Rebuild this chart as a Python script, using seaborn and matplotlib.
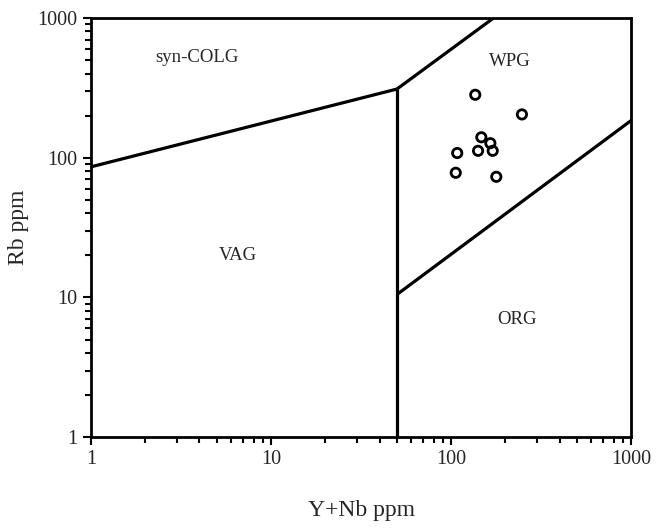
import numpy as np
import pandas as pd
import matplotlib
matplotlib.use("Agg")
import matplotlib.pyplot as plt
import seaborn as sns

# sample points
y_nb = [136, 247, 147, 165, 108, 141, 170, 106, 178]
rb = [282, 204, 140, 127, 108, 112, 112, 78, 73]

# discrimination boundaries (Y+Nb, Rb)
colg_vag_x = [1, 50]
colg_vag_y = [86, 310]
vertical_x = [50, 50]
vertical_y = [1, 310]
colg_wpg_x = [50, 172]
colg_wpg_y = [310, 1000]
wpg_org_x = [50, 1000]
wpg_org_y = [10.5, 185]

field_names = ["syn-COLG", "WPG", "VAG", "ORG"]
field_x = [3.9, 213, 6.5, 233]
field_y = [520, 490, 20, 7.0]

sns.set_style("ticks")
plt.rcParams["font.family"] = ["Liberation Serif", "DejaVu Serif"]

fig = plt.figure(figsize=(6.59, 5.28), dpi=100)
ax = fig.add_axes([0.138, 0.172, 0.82, 0.794])

for bx, by in [(colg_vag_x, colg_vag_y), (vertical_x, vertical_y),
               (colg_wpg_x, colg_wpg_y), (wpg_org_x, wpg_org_y)]:
    ax.plot(bx, by, color="black", lw=2.3, solid_capstyle="butt")

df = pd.DataFrame({"Y+Nb": y_nb, "Rb": rb})
sns.scatterplot(data=df, x="Y+Nb", y="Rb", ax=ax, marker="o", s=45,
                facecolor="none", edgecolor="black", linewidth=2, zorder=5)

for name, fx, fy in zip(field_names, field_x, field_y):
    ax.text(fx, fy, name, ha="center", va="center", fontsize=13.5)

ax.set_xscale("log")
ax.set_yscale("log")
ax.set_xlim(1, 1000)
ax.set_ylim(1, 1000)
ax.set_xticks([1, 10, 100, 1000])
ax.set_yticks([1, 10, 100, 1000])
ax.set_xticklabels(["1", "10", "100", "1000"])
ax.set_yticklabels(["1", "10", "100", "1000"])
ax.tick_params(axis="both", which="major", length=6, width=1.5, labelsize=14.5,
               direction="out", color="black")
ax.tick_params(axis="both", which="minor", length=4, width=1.5,
               direction="out", color="black")
for sp in ax.spines.values():
    sp.set_linewidth(2)
    sp.set_color("black")

ax.set_xlabel("Y+Nb ppm", fontsize=17, labelpad=22)
ax.set_ylabel("Rb ppm", fontsize=17, labelpad=6)

fig.savefig("out.png", dpi=100)
